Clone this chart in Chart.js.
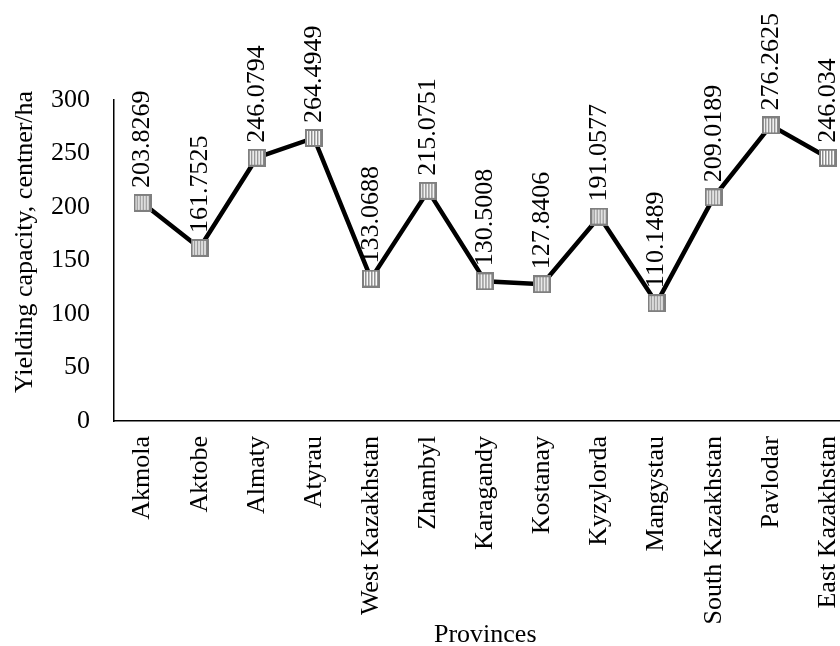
<!DOCTYPE html>
<html>
<head>
<meta charset="utf-8">
<script src="https://cdn.jsdelivr.net/npm/chart.js@4/dist/chart.umd.min.js"></script>
<style>
  body { margin: 0; overflow: hidden; background: #fff; }
</style>
</head>
<body>
<canvas id="grafica" width="870" height="646"></canvas>
<script>
var provincias = ['Akmola', 'Aktobe', 'Almaty', 'Atyrau', 'West Kazakhstan', 'Zhambyl', 'Karagandy',
                  'Kostanay', 'Kyzylorda', 'Mangystau', 'South Kazakhstan', 'Pavlodar', 'East Kazakhstan']
var rendimiento = [203.8269, 161.7525, 246.0794, 264.4949, 133.0688, 215.0751, 130.5008,
                   127.8406, 191.0577, 110.1489, 209.0189, 276.2625, 246.034]
var yTicks = [0, 50, 100, 150, 200, 250, 300]
var yTitulo = 'Yielding capacity, centner/ha'
var xTitulo = 'Provinces'

var fuente = 'Liberation Serif, Times New Roman, serif'

// hatched square marker
function marcador() {
  var c = document.createElement('canvas')
  c.width = 18; c.height = 18
  var g = c.getContext('2d')
  g.fillStyle = '#ffffff'
  g.fillRect(0, 0, 18, 18)
  g.fillStyle = '#8c8c8c'
  for (var x = 3; x < 16; x += 3) g.fillRect(x, 2, 1.5, 14)
  g.strokeStyle = '#7f7f7f'
  g.lineWidth = 2
  g.strokeRect(1, 1, 16, 16)
  return c
}

var etiquetas = {
  id: 'etiquetas',
  afterDatasetsDraw: function(chart) {
    var ctx = chart.ctx
    var meta = chart.getDatasetMeta(0)
    ctx.save()
    ctx.fillStyle = '#000'
    ctx.font = '26px ' + fuente
    ctx.textAlign = 'left'
    ctx.textBaseline = 'middle'
    meta.data.forEach(function(p, i) {
      ctx.save()
      ctx.translate(p.x, p.y - 15)
      ctx.rotate(-Math.PI / 2)
      ctx.fillText(String(rendimiento[i]), 0, 0)
      ctx.restore()
    })
    ctx.restore()
  },
  afterDraw: function(chart) {
    var ctx = chart.ctx
    var area = chart.chartArea
    ctx.save()
    ctx.fillStyle = '#000'
    ctx.font = '26px ' + fuente
    ctx.textAlign = 'center'
    ctx.textBaseline = 'alphabetic'
    ctx.fillText(xTitulo, (area.left + area.right) / 2, 642)
    ctx.translate(32, 242)
    ctx.rotate(-Math.PI / 2)
    ctx.fillText(yTitulo, 0, 0)
    ctx.restore()
  }
}

var ctx = document.getElementById('grafica').getContext('2d')
var grafica = new Chart(ctx, {
  type: 'line',
  data: {
    labels: provincias,
    datasets: [{
      data: rendimiento,
      borderColor: '#000000',
      borderWidth: 4.5,
      tension: 0,
      fill: false,
      pointStyle: marcador(),
      pointRadius: 9,
      pointHoverRadius: 9
    }]
  },
  options: {
    responsive: false,
    animation: false,
    layout: { padding: { top: 100, left: 0, right: 0, bottom: 0 } },
    plugins: {
      legend: { display: false },
      tooltip: { enabled: false },
      title: { display: false }
    },
    scales: {
      x: {
        offset: true,
        grid: { display: false, drawTicks: false },
        border: { display: true, color: '#000', width: 1.5 },
        ticks: {
          color: '#000',
          font: { size: 26, family: fuente },
          minRotation: 90,
          maxRotation: 90,
          padding: 15,
          autoSkip: false
        },
        afterFit: function(s) { s.height = 225; s.paddingRight = 0; s.paddingLeft = 0 }
      },
      y: {
        min: 0,
        max: 300,
        afterBuildTicks: function(s) { s.ticks = yTicks.map(function(v) { return { value: v } }) },
        grid: { display: false, drawTicks: false },
        border: { display: true, color: '#000', width: 1.5 },
        ticks: {
          color: '#000',
          font: { size: 26, family: fuente },
          padding: 24
        },
        afterFit: function(s) { s.width = 114 }
      }
    }
  },
  plugins: [etiquetas]
})
</script>
</body>
</html>
